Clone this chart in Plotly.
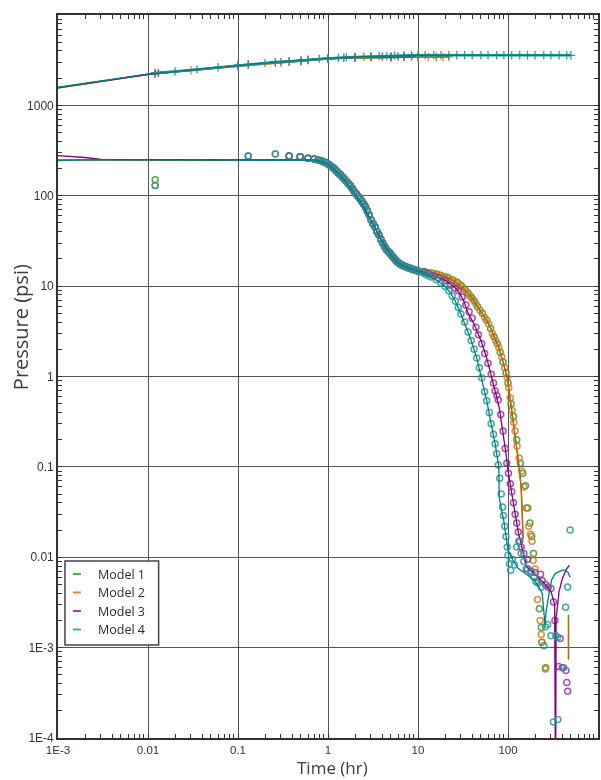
import plotly.graph_objects as go

# ---------------- DATA ----------------
models = ["Model 1", "Model 2", "Model 3", "Model 4"]
line_colors = ["#228b22", "#c86400", "#800080", "#008080"]
marker_colors = ["#2e9a2e", "#d9781f", "#9b309b", "#1f9a9a"]
legend_colors = ["#4cae4c", "#e8862a", "#a03ca0", "#3aacac"]

x_tickvals = [1e-3, 1e-2, 1e-1, 1, 10, 100]
x_ticktext = ["1E-3", "0.01", "0.1", "1", "10", "100"]
y_tickvals = [1e-4, 1e-3, 1e-2, 1e-1, 1, 10, 100, 1000]
y_ticktext = ["1E-4", "1E-3", "0.01", "0.1", "1", "10", "100", "1000"]

# ---- pressure model lines (upper curves)
p_line_t_m1 = [0.001, 0.002, 0.004, 0.01, 0.02, 0.04, 0.1, 0.2, 0.4, 1, 2, 4, 10, 20]
p_line_v_m1 = [1560, 1722, 1912, 2198, 2350, 2520, 2762, 2925, 3085, 3295, 3375, 3415, 3432, 3440]
p_line_t_m2 = [0.001, 0.002, 0.004, 0.01, 0.02, 0.04, 0.1, 0.2, 0.4, 1, 2, 4, 10, 22]
p_line_v_m2 = [1555, 1720, 1910, 2200, 2350, 2520, 2760, 2920, 3080, 3290, 3370, 3410, 3430, 3440]
p_line_t_m3 = [0.001, 0.002, 0.004, 0.01, 0.02, 0.04, 0.1, 0.2, 0.4, 1, 2, 4, 8.5]
p_line_v_m3 = [1570, 1735, 1925, 2210, 2365, 2535, 2780, 2945, 3100, 3320, 3410, 3460, 3480]
p_line_t_m4 = [0.001, 0.002, 0.004, 0.01, 0.02, 0.04, 0.1, 0.2, 0.4, 1, 2, 4, 10, 20, 50, 100, 200, 500]
p_line_v_m4 = [1585, 1745, 1935, 2215, 2370, 2540, 2785, 2950, 3110, 3335, 3430, 3520, 3580, 3582, 3585, 3585, 3585, 3585]

# ---- pressure data markers (upper curves)
p_data_t_m1 = [0.012, 0.1, 0.5, 1.0, 2.0, 5.0, 10, 16]
p_data_v_m1 = [2240, 2720, 3080, 3250, 3350, 3410, 3425, 3435]
p_data_t_m2 = [0.012, 0.03, 0.1, 0.26, 0.5, 1.0, 2.0, 3.0, 5.0, 7.0, 10, 13, 16, 19, 22]
p_data_v_m2 = [2250, 2430, 2740, 2960, 3100, 3270, 3360, 3390, 3410, 3420, 3425, 3430, 3432, 3435, 3435]
p_data_t_m3 = [0.013, 0.1, 0.13, 0.3, 0.37, 0.6, 1.0, 1.5, 2.0, 3.0, 4.0, 5.0, 6.0, 7.0, 8.5]
p_data_v_m3 = [2290, 2770, 2830, 3000, 3060, 3180, 3300, 3360, 3400, 3440, 3460, 3470, 3475, 3480, 3482]
p_data_t_m4 = [0.012, 0.02, 0.035, 0.06, 0.1, 0.13, 0.2, 0.26, 0.37, 0.5, 0.6, 0.8, 1.0, 1.3,
               1.6, 2.0, 2.5, 3.0, 3.7, 4.5, 5.5, 7.0, 8.5, 10, 12, 15, 18, 22, 27, 33, 40,
               50, 60, 75, 90, 110, 135, 165, 200, 250, 300, 370, 450, 500]
p_data_v_m4 = [2300, 2370, 2500, 2640, 2785, 2850, 2950, 3010, 3080, 3160, 3200, 3270, 3335, 3370,
               3400, 3430, 3460, 3485, 3510, 3530, 3550, 3565, 3575, 3580, 3580, 3580, 3580, 3580,
               3580, 3580, 3580, 3580, 3580, 3580, 3580, 3580, 3580, 3580, 3580, 3580, 3580,
               3580, 3580, 3580]

# ---- derivative data markers (lower curves)
d_early_t = [0.37, 0.49, 0.6, 0.7, 0.78, 0.85, 0.92, 0.97, 1.02, 1.08, 1.13, 1.19, 1.25, 1.31,
             1.38, 1.45, 1.52, 1.6, 1.68, 1.77, 1.86, 1.95, 2.05, 2.15, 2.26, 2.37, 2.49, 2.61,
             2.74, 2.88, 3.02, 3.17, 3.33, 3.5, 3.67, 3.86, 4.05, 4.25, 4.46, 4.69, 4.92, 5.17,
             5.43, 5.7, 6.0, 6.3, 6.6, 6.9, 7.3, 7.7, 8.1, 8.5, 8.9, 9.4, 9.9]
d_early_v = [276, 270, 260, 255, 249, 243, 235, 229, 222, 212, 205, 197, 187, 177,
             170, 160, 153, 145, 137, 129, 120, 112, 105, 99, 93, 87, 81, 75,
             68, 61, 54, 49, 45, 40, 37, 33, 30, 27.5, 25.5, 24, 22.8, 21.5,
             20.3, 19.2, 18.2, 17.6, 17.1, 16.8, 16.4, 16.1, 15.8, 15.5, 15.3, 15.0, 14.7]

d_first_t_m1 = [0.012]
d_first_v_m1 = [150]
d_first_t_m2 = [0.012, 0.26]
d_first_v_m2 = [130, 290]
d_first_t_m3 = [0.13]
d_first_v_m3 = [276]
d_first_t_m4 = [0.012, 0.13, 0.26]
d_first_v_m4 = [130, 276, 290]

d_late_t_m1 = [12, 14, 16, 18, 21, 24, 27, 30, 33, 36, 39, 42, 46, 52, 58, 64, 70, 76, 82, 88,
               95, 100, 108, 115, 125, 137, 146, 156, 166, 175, 183, 192, 205, 223, 234, 238, 262]
d_late_v_m1 = [14.3, 14.0, 13.6, 13.1, 12.5, 11.8, 11.1, 10.2, 9.3, 8.4, 7.6, 6.9, 5.9, 5.0, 4.2,
               3.4, 2.75, 2.3, 1.85, 1.45, 1.1, 0.85, 0.5, 0.36, 0.2, 0.11, 0.085, 0.062, 0.035,
               0.024, 0.017, 0.011, 0.0054, 0.0027, 0.00167, 0.00115, 0.0006]
d_late_t_m2 = [11.5, 13, 15, 17, 19.5, 22, 25, 28, 31, 34, 37, 40, 44, 49, 55, 61, 67, 73, 79, 85,
               92, 98, 102, 106, 111, 116, 120, 126, 133, 142, 150, 160, 170, 178, 185, 190, 200,
               213, 228, 234, 238, 260]
d_late_v_m2 = [14.4, 14.1, 13.8, 13.4, 12.8, 12.2, 11.5, 10.7, 9.8, 8.9, 8.0, 7.3, 6.4, 5.4, 4.5,
               3.8, 3.0, 2.5, 2.1, 1.65, 1.25, 0.97, 0.75, 0.58, 0.42, 0.31, 0.25, 0.17, 0.125,
               0.09, 0.06, 0.035, 0.022, 0.018, 0.015, 0.0092, 0.0074, 0.0034, 0.002, 0.0014,
               0.00115, 0.00058]
d_late_t_m3 = [11.5, 13, 15, 17, 20, 23, 26, 28, 31, 34, 37, 40, 44, 47, 51, 55, 60, 65, 69, 72,
               75, 78, 83, 88, 93, 97, 101, 106, 110, 115, 120, 125, 130, 135, 140, 150, 160, 165,
               180, 200, 230, 240, 260, 280, 300, 320, 332, 365, 380, 400, 440, 450, 460]
d_late_v_m3 = [14.4, 13.8, 13.0, 12.3, 11.5, 10.3, 9.4, 8.9, 7.6, 6.2, 5.2, 4.4, 3.5, 2.9, 2.3,
               1.8, 1.4, 1.06, 0.85, 0.69, 0.62, 0.55, 0.38, 0.25, 0.16, 0.11, 0.085, 0.065,
               0.053, 0.04, 0.03, 0.024, 0.019, 0.015, 0.013, 0.011, 0.0074, 0.0095, 0.007,
               0.0068, 0.0065, 0.0055, 0.005, 0.0047, 0.0045, 0.0032, 0.002, 0.00062, 0.00126,
               0.0006, 0.00056, 0.00041, 0.00033]
d_late_t_m4 = [11, 12, 13, 14, 16, 18, 20, 22, 24, 26, 28, 30, 33, 36, 39, 42, 45, 48, 51, 55,
               58, 62, 65, 69, 72, 75, 78, 81, 84, 87, 89, 92, 95, 98, 100, 104, 107, 112, 118,
               125, 132, 140, 150, 165, 180, 195, 215, 235, 250, 260, 275, 300, 340, 355, 320,
               358, 415, 437, 460, 490]
d_late_v_m4 = [14.2, 13.5, 13.0, 12.6, 11.8, 10.8, 9.9, 8.9, 7.8, 6.8, 5.8, 4.9, 4.0, 3.1, 2.5,
               2.0, 1.6, 1.25, 0.97, 0.68, 0.54, 0.4, 0.3, 0.23, 0.18, 0.14, 0.105, 0.075, 0.05,
               0.036, 0.029, 0.022, 0.017, 0.013, 0.0105, 0.0085, 0.0072, 0.0095, 0.0082, 0.013,
               0.015, 0.011, 0.009, 0.0075, 0.0068, 0.006, 0.0052, 0.0047, 0.00105, 0.0017,
               0.0018, 0.00135, 0.00135, 0.0013, 0.00015, 0.00016, 0.0006, 0.0028, 0.0047, 0.02]

# ---- derivative model lines (lower curves)
d_line_body_t = [0.01, 0.1, 0.3, 0.5, 0.7, 0.85, 1.0, 1.2, 1.4, 1.7, 2.0, 2.5, 3.0, 3.5, 4.0,
                 5.0, 6.0, 7.5, 10]
d_line_body_v = [250, 250, 250, 250, 247, 238, 222, 192, 165, 130, 105, 75, 53, 40, 31,
                 22, 18, 16, 14.7]
d_line_start_t = [0.001, 0.0015, 0.002, 0.003]
d_line_start_v_m1 = [250, 250, 250, 250]
d_line_start_v_m2 = [250, 250, 250, 250]
d_line_start_v_m3 = [278, 272, 265, 252]
d_line_start_v_m4 = [245, 250, 250, 250]

d_line_tail_t_m12 = [12, 15, 20, 25, 30, 35, 40, 47, 55, 62, 70, 79, 88, 98, 105, 112, 120, 130,
                     140, 143, 145, 147, None, 470, 470]
d_line_tail_v_m12 = [14.3, 13.8, 12.8, 11.5, 10.0, 8.6, 7.3, 5.8, 4.5, 3.7, 2.85, 2.1, 1.45, 0.97,
                     0.6, 0.38, 0.22, 0.12, 0.06, 0.04, 0.025, 0.016, None, 0.0023, 0.00074]
d_line_tail_t_m3 = [12, 15, 20, 25, 28, 32, 36, 42, 50, 58, 65, 72, 80, 88, 95, 100, 110, 120,
                    130, 145, 160, 200, 250, 300, 330, 338, 342, 370, 400, 440, 480]
d_line_tail_v_m3 = [14.3, 13.0, 11.5, 9.9, 8.8, 7.0, 5.0, 3.8, 2.5, 1.6, 1.06, 0.69, 0.45, 0.25,
                    0.14, 0.09, 0.05, 0.03, 0.019, 0.012, 0.0078, 0.0065, 0.0052, 0.0042, 0.003,
                    0.00001, 0.0021, 0.0042, 0.0057, 0.0072, 0.0082]
d_line_tail_t_m4 = [12, 14, 17, 20, 23, 26, 30, 34, 39, 45, 51, 58, 65, 72, 79, 80, 90, 100, 115,
                    130, 160, 200, 240, 255, 258, 265, 280, 295, 307, 335, 365, 400, 433, 465, 490]
d_line_tail_v_m4 = [13.6, 12.6, 11.2, 9.9, 8.4, 6.8, 4.9, 3.6, 2.5, 1.6, 0.97, 0.54, 0.3, 0.18,
                    0.1, 0.045, 0.025, 0.012, 0.009, 0.0075, 0.0065, 0.0055, 0.004, 0.0022,
                    0.00175, 0.0025, 0.0036, 0.0048, 0.0057, 0.0066, 0.0069, 0.0072, 0.0072,
                    0.0068, 0.006]

# ---------------- LAYOUT GEOMETRY ----------------
W, H = 601, 780
ML, MR, MT, MB = 58, 1, 15, 42
PW = W - ML - MR
PH = H - MT - MB


def fx(px):
    return (px - ML) / PW


def fy(py):
    return (H - MB - py) / PH


series = {
    0: dict(pl=(p_line_t_m1, p_line_v_m1), pd=(p_data_t_m1, p_data_v_m1),
            df=(d_first_t_m1, d_first_v_m1), dl=(d_late_t_m1, d_late_v_m1),
            ls=d_line_start_v_m1, lt=(d_line_tail_t_m12, d_line_tail_v_m12)),
    1: dict(pl=(p_line_t_m2, p_line_v_m2), pd=(p_data_t_m2, p_data_v_m2),
            df=(d_first_t_m2, d_first_v_m2), dl=(d_late_t_m2, d_late_v_m2),
            ls=d_line_start_v_m2, lt=(d_line_tail_t_m12, d_line_tail_v_m12)),
    2: dict(pl=(p_line_t_m3, p_line_v_m3), pd=(p_data_t_m3, p_data_v_m3),
            df=(d_first_t_m3, d_first_v_m3), dl=(d_late_t_m3, d_late_v_m3),
            ls=d_line_start_v_m3, lt=(d_line_tail_t_m3, d_line_tail_v_m3)),
    3: dict(pl=(p_line_t_m4, p_line_v_m4), pd=(p_data_t_m4, p_data_v_m4),
            df=(d_first_t_m4, d_first_v_m4), dl=(d_late_t_m4, d_late_v_m4),
            ls=d_line_start_v_m4, lt=(d_line_tail_t_m4, d_line_tail_v_m4)),
}

fig = go.Figure()

for i, name in enumerate(models):
    s = series[i]
    # derivative data markers
    dx = s["df"][0] + d_early_t + s["dl"][0]
    dy = s["df"][1] + d_early_v + s["dl"][1]
    fig.add_trace(go.Scatter(
        x=dx, y=dy, mode="markers", name=name, showlegend=False,
        marker=dict(symbol="circle-open", size=6, color=marker_colors[i],
                    line=dict(width=1.5, color=marker_colors[i])), opacity=0.85))
    # pressure data markers
    fig.add_trace(go.Scatter(
        x=s["pd"][0], y=s["pd"][1], mode="lines+markers", name=name, showlegend=False,
        line=dict(color=marker_colors[i], width=2.5 if i == 3 else 1.5),
        marker=dict(symbol="cross-thin-open", size=6,
                    line=dict(width=1.2, color=line_colors[i]))))
    # pressure model line
    fig.add_trace(go.Scatter(
        x=s["pl"][0], y=s["pl"][1], mode="lines", name=name, showlegend=False,
        line=dict(color=line_colors[i], width=1.4)))
    # derivative model line
    lx = d_line_start_t + d_line_body_t + s["lt"][0]
    ly = s["ls"] + d_line_body_v + s["lt"][1]
    fig.add_trace(go.Scatter(
        x=lx, y=ly, mode="lines", name=name, showlegend=False, connectgaps=False,
        line=dict(color=line_colors[i], width=1.3)))

axis_common = dict(
    type="log", showgrid=True, gridcolor="#555555", gridwidth=1.4,
    showline=True, linecolor="#333333", linewidth=1.6, mirror="allticks",
    ticks="inside", ticklen=4, tickcolor="#333333", tickwidth=1,
    zeroline=False, tickmode="array",
    minor=dict(ticks="inside", ticklen=4, tickcolor="#333333", tickwidth=1,
               showgrid=False, dtick="D1"),
)

fig.update_xaxes(range=[-3, 3], tickvals=x_tickvals, ticktext=x_ticktext,
                 tickfont=dict(family="Liberation Sans, Arial", size=11.5, color="#333333"),
                 **axis_common)
fig.update_yaxes(range=[-4, 4], tickvals=y_tickvals, ticktext=y_ticktext,
                 tickfont=dict(family="Liberation Sans, Arial", size=12, color="#333333"),
                 **axis_common)

annotations = [
    dict(text="Pressure (psi)", x=fx(20), y=fy(327), xref="paper", yref="paper",
         textangle=-90, showarrow=False, xanchor="center", yanchor="middle",
         font=dict(family="Open Sans", size=20, color="#3c3c3c")),
    dict(text="Time (hr)", x=fx(334), y=fy(780), xref="paper", yref="paper",
         showarrow=False, xanchor="center", yanchor="bottom", borderpad=0,
         font=dict(family="Open Sans", size=17, color="#3c3c3c")),
]

# manual legend
shapes = [dict(type="rect", xref="paper", yref="paper",
               x0=fx(65), x1=fx(159), y0=fy(645), y1=fy(561),
               line=dict(color="#444444", width=1.5), fillcolor="white", layer="above")]
legend_rows = [574, 592.5, 611, 629.5]
for i, name in enumerate(models):
    yy = fy(legend_rows[i])
    shapes.append(dict(type="line", xref="paper", yref="paper",
                       x0=fx(73), x1=fx(81), y0=yy, y1=yy,
                       line=dict(color=legend_colors[i], width=2), layer="above"))
    annotations.append(dict(text=name, x=fx(96), y=yy, xref="paper", yref="paper",
                            showarrow=False, xanchor="left", yanchor="middle",
                            font=dict(family="Open Sans", size=12.5, color="#2b2b38")))

fig.update_layout(
    width=W, height=H,
    margin=dict(l=ML, r=MR, t=MT, b=MB, pad=0),
    paper_bgcolor="white", plot_bgcolor="white",
    showlegend=False,
    annotations=annotations, shapes=shapes,
)

fig.write_html("out.html")
